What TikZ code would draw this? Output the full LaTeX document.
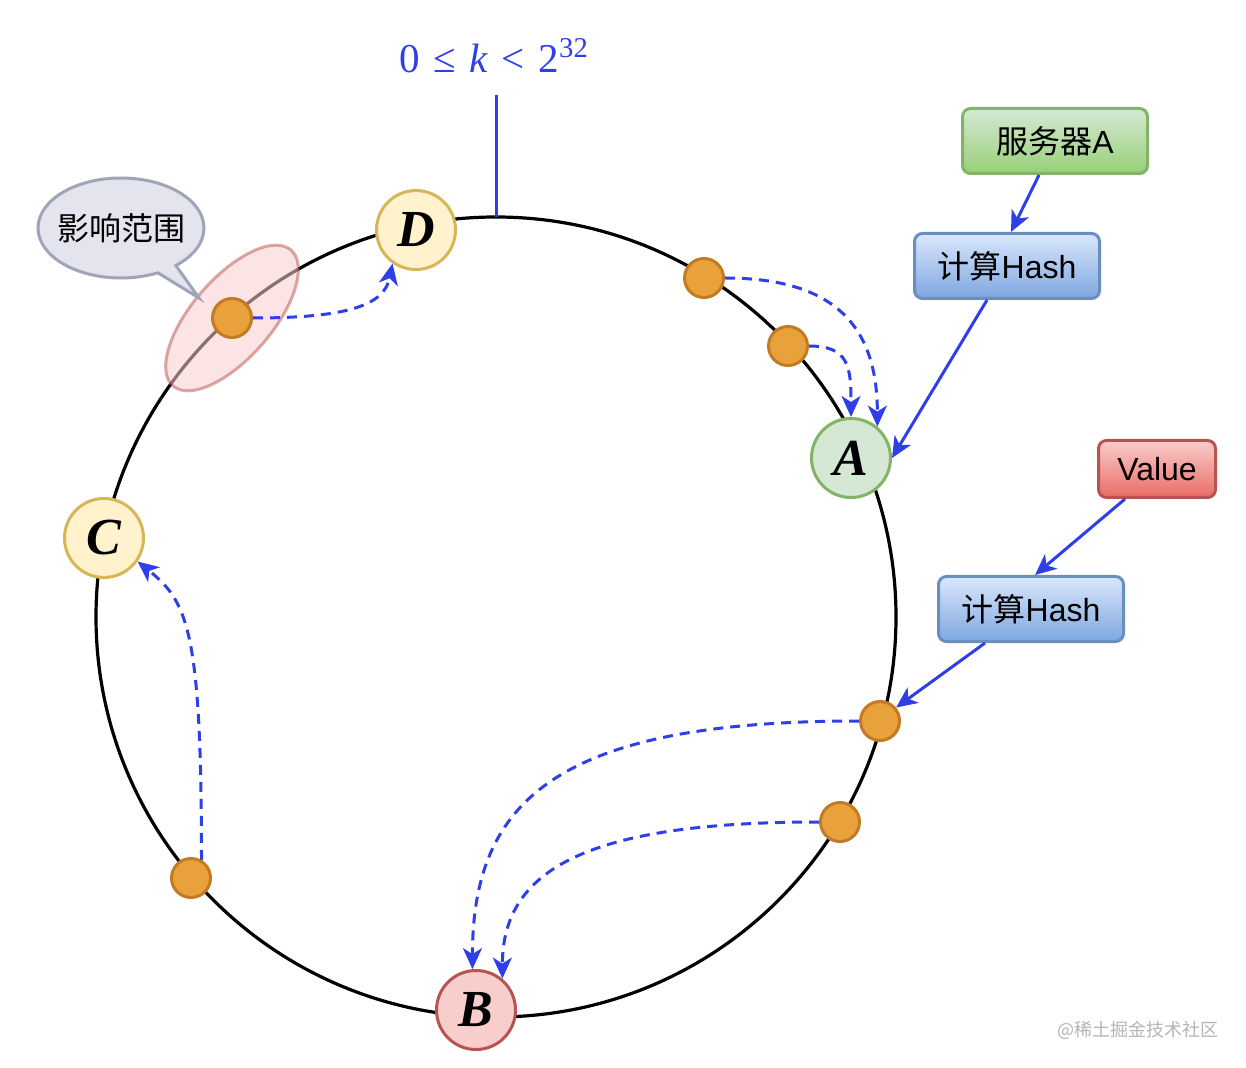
\documentclass[tikz,border=0pt]{standalone}
\usepackage{fontspec}
\setmainfont{Liberation Sans}
\newfontfamily\cjk{Noto Sans CJK SC}
\newfontfamily\letterfont{Liberation Serif}
\usetikzlibrary{shapes.geometric, shapes.callouts, arrows.meta}

\definecolor{flowblue}{HTML}{2E3FEA}
\definecolor{dotfill}{HTML}{E9A23B}
\definecolor{dotline}{HTML}{C27B22}
\definecolor{yelfill}{HTML}{FFF2CC}
\definecolor{yelline}{HTML}{D6B656}
\definecolor{grnfill}{HTML}{D5E8D4}
\definecolor{grnline}{HTML}{82B366}
\definecolor{grnbot}{HTML}{97D077}
\definecolor{redfill}{HTML}{F8CECC}
\definecolor{redline}{HTML}{B85450}
\definecolor{redbot}{HTML}{EA6B66}
\definecolor{blutop}{HTML}{DAE8FC}
\definecolor{blubot}{HTML}{7EA6E0}
\definecolor{bluline}{HTML}{6C8EBF}
\definecolor{notefill}{HTML}{E4E4EE}
\definecolor{noteline}{HTML}{A0A4B8}
\definecolor{markgray}{HTML}{B4B4B4}

\tikzset{
  srv/.style={circle, draw, line width=1.5pt, minimum size=39.5pt, inner sep=0pt,
    font=\fontsize{26}{30}\selectfont\letterfont\bfseries\itshape},
  keydot/.style={circle, draw=dotline, fill=dotfill, line width=1.5pt,
    minimum size=19.5pt, inner sep=0pt},
  box/.style={rectangle, rounded corners=4pt, line width=1.5pt, minimum width=92.5pt,
    minimum height=32.5pt, font=\fontsize{16}{19}\selectfont},
  flow/.style={draw=flowblue, line width=1.5pt, -{Stealth[length=10.5pt, width=9.5pt, inset=3pt]}},
  hop/.style={flow, dash pattern=on 5pt off 3.5pt}
}

\begin{document}
\begin{tikzpicture}[x=0.5pt, y=-0.5pt]
  \useasboundingbox (0,0) rectangle (1246,1068);

  % hash ring
  \coordinate (o) at (496,617);
  \draw[line width=1.6pt] (o) circle (400);
  \coordinate (ringtop) at (496,217);
  \coordinate (tick) at (496,95);
  \draw[flowblue, line width=1.5pt] (tick) -- (ringtop);
  \node[text=flowblue, font=\fontsize{20.5}{25}\selectfont\letterfont] (keyspace) at (494,56)
    {0\,\,≤\,\,\textit{k}\,\,<\,\,2\textsuperscript{32}};

  % affected range
  \node[ellipse, draw=redline, fill=redfill, draw opacity=0.5, fill opacity=0.55,
    line width=1.5pt, minimum width=90pt, minimum height=40pt, rotate=49] (range) at (232,318) {};
  \node[ellipse callout, draw=noteline, fill=notefill, line width=1.5pt, minimum width=83pt,
    minimum height=50pt, inner xsep=-3pt, inner ysep=0pt, callout absolute pointer={(199,298)},
    font=\fontsize{16}{19}\selectfont] (note) at (121,228) {\cjk 影响范围};

  % servers
  \node[srv, draw=yelline, fill=yelfill] (D) at (416,230) {D};
  \node[srv, draw=grnline, fill=grnfill] (A) at (851,458) {A};
  \node[srv, draw=yelline, fill=yelfill] (C) at (104,538) {C};
  \node[srv, draw=redline, fill=redfill] (B) at (476,1010) {B};

  % keys
  \foreach \name/\px/\py in {k1/232/318, k2/704/278, k3/788/346, k4/880/721, k5/840/822, k6/191/878}
    \node[keydot] (\name) at (\px,\py) {};

  % hash boxes
  \node[box, draw=grnline, top color=grnfill, bottom color=grnbot] (server) at (1055,141) {{\cjk 服务器}A};
  \node[box, draw=bluline, top color=blutop, bottom color=blubot] (hash1) at (1007,266) {{\cjk 计算}Hash};
  \node[box, draw=redline, top color=redfill, bottom color=redbot, minimum width=58.5pt,
    minimum height=28.5pt] (value) at (1157,469) {Value};
  \node[box, draw=bluline, top color=blutop, bottom color=blubot] (hash2) at (1031,609) {{\cjk 计算}Hash};

  \draw[flow] ([xshift=-8pt]server.south) -- ([xshift=2pt]hash1.north);
  \draw[flow] ([xshift=-10pt]hash1.south) -- (A.east);
  \draw[flow] ([xshift=-16pt]value.south) -- ([xshift=2pt]hash2.north);
  \draw[flow] ([xshift=-23pt]hash2.south) -- (k4.40);

  % lookups, clockwise to next server
  \draw[hop] (k1.east) .. controls +(100,0) and +(-8,40) .. (D.235);
  \draw[hop] (k2.east) .. controls +(110,0) and +(0,-100) .. (A.50);
  \draw[hop] (k3.east) .. controls +(40,0) and +(0,-50) .. (A.north);
  \draw[hop] (k4.west) .. controls +(-300,0) and +(0,-170) .. (B.95);
  \draw[hop] (k5.west) .. controls +(-230,0) and +(0,-110) .. (B.50);
  \draw[hop] (k6.60) .. controls +(0,-230) and +(50,40) .. (C.-35);

  \node[text=markgray, font=\fontsize{9}{11}\selectfont] (mark) at (1138,1030) {{\cjk @稀土掘金技术社区}};
\end{tikzpicture}
\end{document}
